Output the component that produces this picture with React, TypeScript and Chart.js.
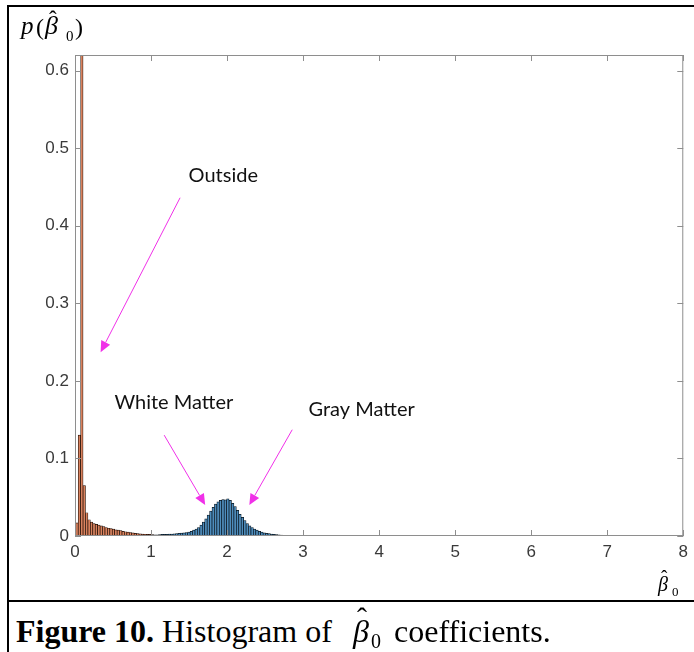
import React, { useEffect, useRef } from "react";
import { Chart, registerables } from "chart.js";

Chart.register(...registerables);

// ---- data ----
const BIN_START = 0.01;
const BIN_WIDTH = 0.032;

// "Outside" population (orange), first bins from 0.01
const outsideValues = [
  0.017, 0.13, 0.8, 0.065, 0.03, 0.021, 0.018, 0.016, 0.015, 0.014, 0.013,
  0.012, 0.011, 0.01, 0.0095, 0.009, 0.008, 0.0075, 0.007, 0.006, 0.0055,
  0.005, 0.0045, 0.004, 0.0035, 0.003, 0.0028, 0.0025, 0.0023, 0.002, 0.002,
  0.0018,
];

// Tissue population (blue), continues right after the orange bins
const tissueValues = [
  0.0015, 0.0015, 0.0018, 0.002, 0.002, 0.0022, 0.0025, 0.0025, 0.0028, 0.003,
  0.0033, 0.0038, 0.004, 0.0045, 0.005, 0.006, 0.0075, 0.009, 0.011, 0.014,
  0.018, 0.022, 0.027, 0.032, 0.037, 0.041, 0.044, 0.046, 0.047, 0.0465,
  0.048, 0.046, 0.042, 0.038, 0.033, 0.028, 0.024, 0.02, 0.016, 0.013, 0.011,
  0.009, 0.0075, 0.006, 0.005, 0.004, 0.0035, 0.003, 0.0025, 0.002, 0.0017,
  0.0014, 0.0012, 0.001, 0.0008, 0.0006, 0.0005, 0.0004,
];

const xTickLabels = ["0", "1", "2", "3", "4", "5", "6", "7", "8"];
const yTickLabels = ["0", "0.1", "0.2", "0.3", "0.4", "0.5", "0.6"];

const annotationLabels = ["Outside", "White Matter", "Gray Matter"];
const annotationTextAt = [
  [1.95, 0.465],
  [1.3, 0.172],
  [3.77, 0.163],
];
const annotationArrowFrom = [
  [1.382, 0.436],
  [1.173, 0.13],
  [2.857, 0.137],
];
const annotationArrowTo = [
  [0.337, 0.237],
  [1.712, 0.04],
  [2.293, 0.04],
];

const binCenter = (i: number) => BIN_START + (i + 0.5) * BIN_WIDTH;

const axesPlugin = {
  id: "matlabAxes",
  afterDraw(chart: any) {
    const { ctx, chartArea, scales } = chart;
    const { left, right, top, bottom } = chartArea;
    const xs = scales.x;
    const ys = scales.y;
    ctx.save();
    // box
    ctx.strokeStyle = "#8e8e8e";
    ctx.lineWidth = 1;
    ctx.strokeRect(left + 0.5, top + 0.5, right - left - 1, bottom - top - 1);
    // inward ticks
    const TL = 6;
    ctx.beginPath();
    xTickLabels.forEach((_, i) => {
      const px = Math.round(xs.getPixelForValue(i)) + 0.5;
      ctx.moveTo(px, bottom);
      ctx.lineTo(px, bottom - TL);
      ctx.moveTo(px, top);
      ctx.lineTo(px, top + TL);
    });
    yTickLabels.forEach((_, i) => {
      const py = Math.round(ys.getPixelForValue(i / 10)) + 0.5;
      ctx.moveTo(left, py);
      ctx.lineTo(left + TL, py);
      ctx.moveTo(right, py);
      ctx.lineTo(right - TL, py);
    });
    ctx.stroke();

    // annotations
    ctx.font = "20px Lato";
    ctx.fillStyle = "#111";
    ctx.textAlign = "center";
    ctx.textBaseline = "middle";
    annotationLabels.forEach((t, i) => {
      ctx.fillText(
        t,
        xs.getPixelForValue(annotationTextAt[i][0]),
        ys.getPixelForValue(annotationTextAt[i][1])
      );
    });
    ctx.strokeStyle = "#f030e8";
    ctx.fillStyle = "#f030e8";
    ctx.lineWidth = 1;
    annotationArrowFrom.forEach((from, i) => {
      const to = annotationArrowTo[i];
      const x1 = xs.getPixelForValue(from[0]);
      const y1 = ys.getPixelForValue(from[1]);
      const x2 = xs.getPixelForValue(to[0]);
      const y2 = ys.getPixelForValue(to[1]);
      const a = Math.atan2(y2 - y1, x2 - x1);
      const hl = 11;
      const hw = 5;
      const bx = x2 - Math.cos(a) * hl;
      const by = y2 - Math.sin(a) * hl;
      ctx.beginPath();
      ctx.moveTo(x1, y1);
      ctx.lineTo(bx, by);
      ctx.stroke();
      ctx.beginPath();
      ctx.moveTo(x2, y2);
      ctx.lineTo(bx + Math.sin(a) * hw, by - Math.cos(a) * hw);
      ctx.lineTo(bx - Math.sin(a) * hw, by + Math.cos(a) * hw);
      ctx.closePath();
      ctx.fill();
    });
    ctx.restore();
  },
};

const SERIF = "'Liberation Serif', 'Times New Roman', serif";

function Glyph(props: {
  x: number;
  baseline: number;
  size: number;
  italic?: boolean;
  bold?: boolean;
  children: any;
}) {
  const { x, baseline, size, italic, bold, children } = props;
  return (
    <span
      style={{
        position: "absolute",
        left: x,
        top: baseline - 0.8375 * size,
        fontFamily: SERIF,
        fontSize: size,
        lineHeight: `${size}px`,
        fontStyle: italic ? "italic" : "normal",
        fontWeight: bold ? "bold" : "normal",
        whiteSpace: "pre",
        color: "#000",
      }}
    >
      {children}
    </span>
  );
}

export default function App() {
  const canvasRef = useRef<HTMLCanvasElement | null>(null);

  useEffect(() => {
    const canvas = canvasRef.current;
    if (!canvas) return;
    const tickFont = { family: "'Liberation Sans', Arial", size: 17 };
    const chart = new Chart(canvas, {
      type: "bar",
      data: {
        datasets: [
          {
            label: "Outside",
            data: outsideValues.map((v, i) => ({ x: binCenter(i), y: v })),
            backgroundColor: "#d9825e",
            borderColor: "#1e0c04",
            borderWidth: 0.7,
            grouped: false,
            barPercentage: 1,
            categoryPercentage: 1,
          },
          {
            label: "Tissue",
            data: tissueValues.map((v, i) => ({
              x: binCenter(outsideValues.length + i),
              y: v,
            })),
            backgroundColor: "#4d8cbc",
            borderColor: "#06121c",
            borderWidth: 0.7,
            grouped: false,
            barPercentage: 1,
            categoryPercentage: 1,
          },
        ],
      } as any,
      options: {
        responsive: false,
        animation: false,
        devicePixelRatio: 1,
        layout: { padding: { left: 0, top: 55, right: 9, bottom: 0 } },
        plugins: {
          legend: { display: false },
          tooltip: { enabled: false },
        },
        scales: {
          x: {
            type: "linear",
            min: 0,
            max: 8,
            offset: false,
            grid: { display: false, drawTicks: false },
            border: { display: false },
            ticks: {
              stepSize: 1,
              padding: 6,
              autoSkip: false,
              maxRotation: 0,
              color: "#3a3a3a",
              font: tickFont,
              callback: (v: any) => xTickLabels[Math.round(Number(v))] ?? "",
            },
            afterFit(s: any) {
              s.height = 64;
            },
          },
          y: {
            min: 0,
            max: 0.62,
            grid: { display: false, drawTicks: false },
            border: { display: false },
            ticks: {
              stepSize: 0.1,
              includeBounds: false,
              padding: 6,
              color: "#3a3a3a",
              font: tickFont,
              callback: (v: any) =>
                yTickLabels[Math.round(Number(v) * 10)] ?? "",
            },
            afterFit(s: any) {
              s.width = 75;
            },
          },
        },
      } as any,
      plugins: [axesPlugin],
    });
    return () => chart.destroy();
  }, []);

  return (
    <div
      style={{
        position: "absolute",
        left: 0,
        top: 0,
        width: 694,
        height: 652,
        overflow: "hidden",
        background: "#fff",
      }}
    >
      <canvas
        ref={canvasRef}
        width={694}
        height={600}
        style={{ position: "absolute", left: 0, top: 0, width: 694, height: 600 }}
      />
      {/* frame lines */}
      <div style={{ position: "absolute", left: 7, top: 5, width: 687, height: 2, background: "#000" }} />
      <div style={{ position: "absolute", left: 7, top: 5, width: 2, height: 647, background: "#000" }} />
      <div style={{ position: "absolute", left: 7, top: 600, width: 687, height: 2, background: "#000" }} />

      {/* y label p(β̂0) */}
      <Glyph x={21} baseline={34} size={25} italic>p</Glyph>
      <Glyph x={36} baseline={35} size={24}>(</Glyph>
      <Glyph x={45} baseline={35} size={26} italic>β</Glyph>
      <Glyph x={49} baseline={27} size={23}>ˆ</Glyph>
      <Glyph x={66} baseline={42} size={15}>0</Glyph>
      <Glyph x={75} baseline={35} size={24}>)</Glyph>

      {/* x label β̂0 */}
      <Glyph x={658} baseline={591} size={20} italic>β</Glyph>
      <Glyph x={661} baseline={583} size={19}>ˆ</Glyph>
      <Glyph x={672} baseline={596} size={13}>0</Glyph>

      {/* caption */}
      <Glyph x={16} baseline={642} size={32}>
        <b>Figure 10.</b> Histogram of
      </Glyph>
      <Glyph x={353} baseline={642} size={32} italic>β</Glyph>
      <Glyph x={357} baseline={628} size={30}>ˆ</Glyph>
      <Glyph x={371} baseline={648} size={20}>0</Glyph>
      <Glyph x={394} baseline={642} size={32}>coefficients.</Glyph>
    </div>
  );
}
